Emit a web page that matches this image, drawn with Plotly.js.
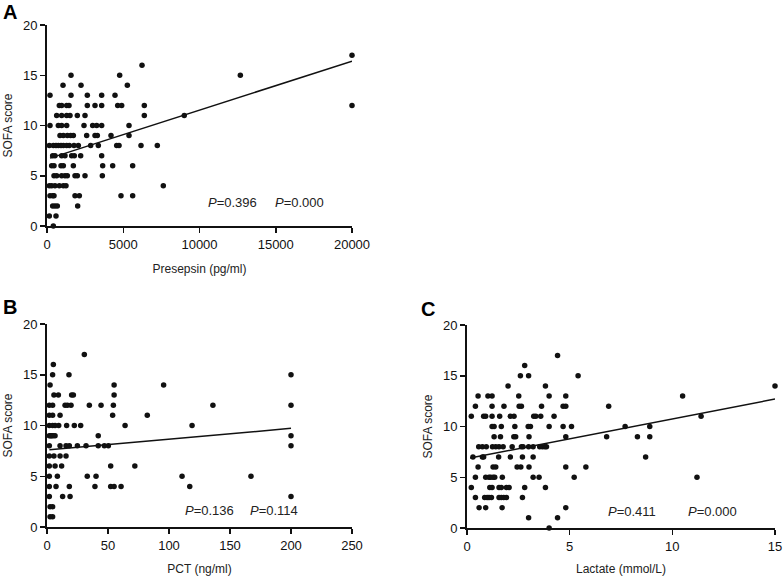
<!DOCTYPE html>
<html>
<head>
<meta charset="utf-8">
<script src="https://cdn.plot.ly/plotly-3.0.1.min.js"></script>
<style>html,body{margin:0;padding:0;background:#fff;}#chart{width:784px;height:576px;}</style>
</head>
<body>
<div id="chart"></div>
<script>
// Panel A: Presepsin vs SOFA
var presepsinX = [20000, 6230, 1574,4765,12678, 1050,2230,5268, 197,1574,2644,3585,4459,
  807,964,1292,1443,2644,3148,3585,4636,4898,6381,20000,
  634,962,1290,1508,1989,2492,6381,9000,
  197,743,962,1290,2426,2994,3257,3585,5377,
  852,1071,1333,1552,1727,2601,3148,3300,4197,5377,
  153,415,590,743,918,1071,1290,1465,1770,2055,2863,3366,4570,4723,6164,7233,
  371,524,962,1180,1617,1792,2207,3585,
  306,459,918,1071,1727,3651,4307,5618,
  459,634,962,1180,1333,1836,1989,2492,3629,
  153,306,524,808,1071,1246,7627,
  197,371,459,1836,2120,4852,5618,
  371,524,677,2011,
  153,590,
  415];
var presepsinSofa = [17, 16, 15,15,15, 14,14,14, 13,13,13,13,13,
  12,12,12,12,12,12,12,12,12,12,12,
  11,11,11,11,11,11,11,11,
  10,10,10,10,10,10,10,10,10,
  9,9,9,9,9,9,9,9,9,9,
  8,8,8,8,8,8,8,8,8,8,8,8,8,8,8,8,
  7,7,7,7,7,7,7,7,
  6,6,6,6,6,6,6,6,
  5,5,5,5,5,5,5,5,5,
  4,4,4,4,4,4,4,
  3,3,3,3,3,3,3,
  2,2,2,2,
  1,1,
  0];
var presepsinFitX = [200, 20000];
var presepsinFitY = [6.75, 16.4];

// Panel B: PCT vs SOFA
var pctX = [30.6, 5.2, 4.6,18,200, 2.5,55,95.6, 5.7,9.3,20.2,21.6,55,
  1.9,4.6,14.8,16.7,19.7,34.7,44.3,54.4,136,200,
  1.9,4.6,10.7,53.8,82.2,
  1.9,4.6,6.6,9.6,16.1,22.4,27.6,64,118.9,
  1.9,3.0,3.8,5.0,6.6,42,200,
  1.9,10.7,15.6,18.3,24.9,32,42,47,50.3,200,
  1.9,5.7,10.7,15.6,
  1.9,6.6,12,52.2,72,
  1.9,8.5,33,40.2,110.7,167.2,
  1.9,7.4,18.3,39.3,52.2,55,60.7,117,
  1.9,12.8,18.9,200,
  2.5,4.6,
  2.5,4.6];
var pctSofa = [17, 16, 15,15,15, 14,14,14, 13,13,13,13,13,
  12,12,12,12,12,12,12,12,12,12,
  11,11,11,11,11,
  10,10,10,10,10,10,10,10,10,
  9,9,9,9,9,9,9,
  8,8,8,8,8,8,8,8,8,8,
  7,7,7,7,
  6,6,6,6,6,
  5,5,5,5,5,5,
  4,4,4,4,4,4,4,4,
  3,3,3,3,
  2,2,
  1,1];
var pctFitX = [2, 200];
var pctFitY = [7.6, 9.72];

// Panel C: Lactate vs SOFA
var lactateX = [4.41, 2.81, 2.6,3.0,5.41, 2.0,3.82,15,
  0.54,1.02,1.22,2.52,4.0,4.81,10.5,
  0.41,1.22,1.8,2.54,2.65,3.63,4.68,4.81,6.9,
  0.21,0.81,0.91,1.22,1.59,2.11,2.29,3.25,3.35,3.59,4.24,11.4,
  1.22,1.32,1.67,2.33,2.98,3.09,4.0,4.68,5.09,7.7,8.9,
  1.32,1.63,2.28,2.37,3.02,4.81,6.8,8.3,8.9,
  0.57,0.75,0.94,1.24,1.4,1.56,1.76,2.2,2.65,2.73,3.0,3.22,3.54,3.67,3.79,3.87,
  0.29,0.75,0.81,1.54,2.11,2.7,3.22,8.7,
  0.54,1.27,1.4,2.44,2.62,3.02,4.81,5.79,
  0.41,0.91,1.07,1.15,1.27,1.35,1.72,3.22,3.51,5.22,11.2,
  0.21,1.11,1.22,1.56,1.67,1.92,2.05,2.81,3.82,
  0.41,0.86,0.98,1.07,1.19,1.56,1.67,1.79,1.92,2.7,
  0.59,0.91,1.71,4.81,
  3.0,4.41,
  4.0];
var lactateSofa = [17, 16, 15,15,15, 14,14,14,
  13,13,13,13,13,13,13,
  12,12,12,12,12,12,12,12,12,
  11,11,11,11,11,11,11,11,11,11,11,11,
  10,10,10,10,10,10,10,10,10,10,10,
  9,9,9,9,9,9,9,9,9,
  8,8,8,8,8,8,8,8,8,8,8,8,8,8,8,8,
  7,7,7,7,7,7,7,7,
  6,6,6,6,6,6,6,6,
  5,5,5,5,5,5,5,5,5,5,5,
  4,4,4,4,4,4,4,4,4,
  3,3,3,3,3,3,3,3,3,3,
  2,2,2,2,
  1,1,
  0];
var lactateFitX = [0.15, 15];
var lactateFitY = [6.9, 12.7];

var panelLetters = ['A', 'B', 'C'];
var xTitles = ['Presepsin (pg/ml)', 'PCT (ng/ml)', 'Lactate (mmol/L)'];
var yTitle = 'SOFA score';
var pTexts = [['<i>P</i>=0.396', '<i>P</i>=0.000'], ['<i>P</i>=0.136', '<i>P</i>=0.114'], ['<i>P</i>=0.411', '<i>P</i>=0.000']];

var ink = '#111111';
var FONT = 'Liberation Sans, Arial, Helvetica, sans-serif';
var W = 784, H = 576;

function scatter(x, y, xa, ya) {
  return {x: x, y: y, xaxis: xa, yaxis: ya, type: 'scatter', mode: 'markers',
    marker: {color: ink, size: 5.5}, cliponaxis: false, hoverinfo: 'x+y'};
}
function fit(x, y, xa, ya) {
  return {x: x, y: y, xaxis: xa, yaxis: ya, type: 'scatter', mode: 'lines',
    line: {color: ink, width: 1.5}, cliponaxis: false, hoverinfo: 'skip'};
}

var data = [
  scatter(presepsinX, presepsinSofa, 'x', 'y'), fit(presepsinFitX, presepsinFitY, 'x', 'y'),
  scatter(pctX, pctSofa, 'x2', 'y2'), fit(pctFitX, pctFitY, 'x2', 'y2'),
  scatter(lactateX, lactateSofa, 'x3', 'y3'), fit(lactateFitX, lactateFitY, 'x3', 'y3')
];

function px2x(a, b) { return [a / W, b / W]; }
function px2y(top, bottom) { return [1 - bottom / H, 1 - top / H]; }

function xAxis(domain, range, dtick, anchor, title) {
  return {domain: domain, range: range, dtick: dtick, tick0: 0, anchor: anchor, tickformat: 'd',
    showline: true, linewidth: 2, linecolor: ink, ticks: 'outside', ticklen: 5, tickwidth: 1.5, tickcolor: ink,
    showgrid: false, zeroline: false, fixedrange: true,
    tickfont: {family: FONT, size: 13, color: '#111'},
    title: {text: title, font: {family: FONT, size: 12, color: '#222'}}};
}
function yAxis(domain, anchor) {
  return {domain: domain, range: [0, 20], dtick: 5, tick0: 0, anchor: anchor, tickformat: 'd',
    showline: true, linewidth: 2, linecolor: ink, ticks: 'outside', ticklen: 5, tickwidth: 1.5, tickcolor: ink,
    showgrid: false, zeroline: false, fixedrange: true,
    tickfont: {family: FONT, size: 13, color: '#111'},
    title: {text: yTitle, font: {family: FONT, size: 12, color: '#222'}}};
}

var annotations = [];
var letterPos = [[10, 12], [10, 307], [428, 309]];
for (var i = 0; i < 3; i++) {
  annotations.push({text: '<b>' + panelLetters[i] + '</b>', xref: 'paper', yref: 'paper',
    x: letterPos[i][0] / W, y: 1 - letterPos[i][1] / H, xanchor: 'center', yanchor: 'middle', showarrow: false,
    font: {family: FONT, size: 20, color: '#000'}});
}
var pPos = [[[232, 202], [299, 202]], [[209, 510], [274, 510]], [[632, 511], [712, 511]]];
for (var j = 0; j < 3; j++) {
  for (var k = 0; k < 2; k++) {
    annotations.push({text: pTexts[j][k], xref: 'paper', yref: 'paper',
      x: pPos[j][k][0] / W, y: 1 - pPos[j][k][1] / H, xanchor: 'center', yanchor: 'middle', showarrow: false,
      font: {family: FONT, size: 13, color: '#222'}});
  }
}

var layout = {
  width: W, height: H, margin: {l: 0, r: 0, t: 0, b: 0},
  paper_bgcolor: '#fff', plot_bgcolor: 'rgba(0,0,0,0)', showlegend: false,
  xaxis: xAxis(px2x(47, 352), [0, 20000], 5000, 'y', xTitles[0]),
  yaxis: yAxis(px2y(25, 226), 'x'),
  xaxis2: xAxis(px2x(47, 352), [0, 250], 50, 'y2', xTitles[1]),
  yaxis2: yAxis(px2y(324, 527), 'x2'),
  xaxis3: xAxis(px2x(467, 775), [0, 15], 5, 'y3', xTitles[2]),
  yaxis3: yAxis(px2y(325, 528), 'x3'),
  annotations: annotations
};

Plotly.newPlot('chart', data, layout, {displayModeBar: false, staticPlot: true});
</script>
</body>
</html>
